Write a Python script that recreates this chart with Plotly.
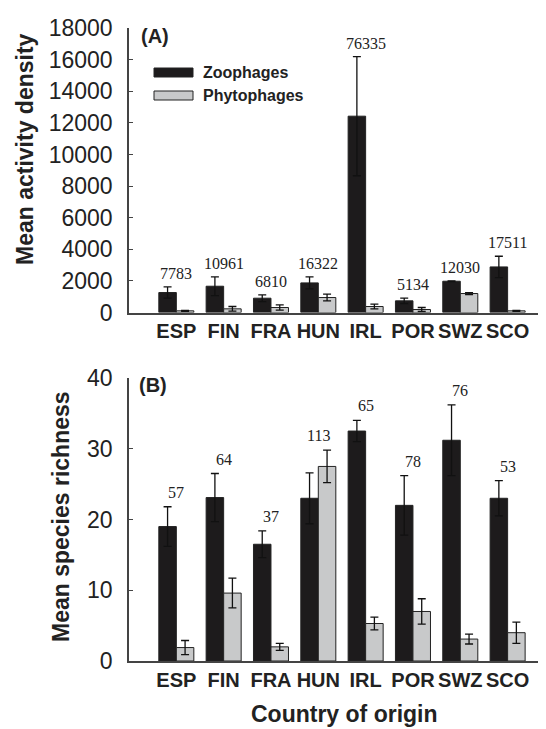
import plotly.graph_objects as go

countries = ["ESP", "FIN", "FRA", "HUN", "IRL", "POR", "SWZ", "SCO"]

zoo_density = [1263, 1663, 905, 1874, 12421, 737, 1979, 2884]
zoo_density_err = [358, 590, 211, 379, 3768, 168, 25, 674]
phyto_density = [105, 232, 316, 947, 379, 189, 1200, 105]
phyto_density_err = [30, 147, 168, 211, 147, 127, 63, 30]
density_n = ["7783", "10961", "6810", "16322", "76335", "5134", "12030", "17511"]
density_ticks = [0, 2000, 4000, 6000, 8000, 10000, 12000, 14000, 16000, 18000]

zoo_rich = [19.0, 23.1, 16.5, 23.0, 32.5, 22.0, 31.2, 23.0]
zoo_rich_err = [2.8, 3.4, 1.9, 3.6, 1.5, 4.2, 5.0, 2.5]
phyto_rich = [1.9, 9.6, 2.0, 27.5, 5.3, 7.0, 3.1, 4.0]
phyto_rich_err = [1.0, 2.1, 0.5, 2.3, 0.9, 1.8, 0.7, 1.5]
rich_n = ["57", "64", "37", "113", "65", "78", "76", "53"]
rich_ticks = [0, 10, 20, 30, 40]

ZOO = "#1d1b1c"
PHY = "#c8c9ca"
EDGE = "#222222"
SANS = "Liberation Sans"
SERIF = "Liberation Serif"

W, H = 546, 729
ML, MR, MT, MB = 121, 0, 20, 76
PW, PH = W - ML - MR, H - MT - MB


def py(p):  # pixel y -> paper
    return (H - MB - p) / PH


def px(p):  # pixel x -> paper
    return (p - ML) / PW


fig = go.Figure()

err_style = dict(type="data", color="#111111", thickness=1.3, width=4, visible=True)

fig.add_trace(go.Bar(x=countries, y=zoo_density, name="Zoophages",
                     marker=dict(color=ZOO, line=dict(color=EDGE, width=1)),
                     error_y=dict(array=zoo_density_err, **err_style),
                     xaxis="x", yaxis="y", showlegend=False))
fig.add_trace(go.Bar(x=countries, y=phyto_density, name="Phytophages",
                     marker=dict(color=PHY, line=dict(color=EDGE, width=1)),
                     error_y=dict(array=phyto_density_err, **err_style),
                     xaxis="x", yaxis="y", showlegend=False))
fig.add_trace(go.Bar(x=countries, y=zoo_rich, name="Zoophages",
                     marker=dict(color=ZOO, line=dict(color=EDGE, width=1)),
                     error_y=dict(array=zoo_rich_err, **err_style),
                     xaxis="x2", yaxis="y2", showlegend=False))
fig.add_trace(go.Bar(x=countries, y=phyto_rich, name="Phytophages",
                     marker=dict(color=PHY, line=dict(color=EDGE, width=1)),
                     error_y=dict(array=phyto_rich_err, **err_style),
                     xaxis="x2", yaxis="y2", showlegend=False))

annotations = []
for i, c in enumerate(countries):
    top = max(zoo_density[i] + zoo_density_err[i], phyto_density[i] + phyto_density_err[i])
    annotations.append(dict(x=c, y=top, xref="x", yref="y", text=density_n[i],
                            showarrow=False, yanchor="bottom", yshift=3,
                            font=dict(family=SERIF, size=16, color="#222")))
    top2 = max(zoo_rich[i] + zoo_rich_err[i], phyto_rich[i] + phyto_rich_err[i])
    annotations.append(dict(x=c, y=top2, xref="x2", yref="y2", text=rich_n[i],
                            showarrow=False, yanchor="bottom", yshift=4,
                            font=dict(family=SERIF, size=16, color="#222")))

title_font = dict(family=SANS, size=23, color="#222", weight="bold")
annotations += [
    dict(text="Mean activity density", xref="paper", yref="paper", x=0, y=py(141),
         xshift=-104, textangle=-90, showarrow=False, xanchor="center", yanchor="middle",
         font=title_font),
    dict(text="Mean species richness", xref="paper", yref="paper", x=0, y=py(509),
         xshift=-68, textangle=-90, showarrow=False, xanchor="center", yanchor="middle",
         font=title_font),
    dict(text="Country of origin", xref="paper", yref="paper", x=px(336), y=py(706),
         showarrow=False, xanchor="center", yanchor="middle", font=title_font),
    dict(text="(A)", xref="paper", yref="paper", x=px(131), y=py(28),
         showarrow=False, xanchor="left", yanchor="middle",
         font=dict(family=SANS, size=20, color="#222", weight="bold")),
    dict(text="(B)", xref="paper", yref="paper", x=px(129), y=py(377),
         showarrow=False, xanchor="left", yanchor="middle",
         font=dict(family=SANS, size=20, color="#222", weight="bold")),
    dict(text="Zoophages", xref="paper", yref="paper", x=px(193), y=py(64),
         showarrow=False, xanchor="left", yanchor="middle",
         font=dict(family=SANS, size=16, color="#222", weight="bold")),
    dict(text="Phytophages", xref="paper", yref="paper", x=px(193), y=py(87),
         showarrow=False, xanchor="left", yanchor="middle",
         font=dict(family=SANS, size=16, color="#222", weight="bold")),
]

shapes = [
    dict(type="rect", xref="paper", yref="paper", x0=px(146), x1=px(185),
         y0=py(69), y1=py(60), fillcolor=ZOO, line=dict(color=EDGE, width=1)),
    dict(type="rect", xref="paper", yref="paper", x0=px(146), x1=px(185),
         y0=py(92), y1=py(83), fillcolor=PHY, line=dict(color=EDGE, width=1)),
]

xax = dict(type="category", range=[-1, 7.98], showline=True, linecolor="#444",
           linewidth=1.5, ticks="", ticklen=0, showgrid=False, zeroline=False,
           tickfont=dict(family=SANS, size=20, color="#222", weight="bold"),
           ticklabelstandoff=0, fixedrange=True)
yax = dict(showline=True, linecolor="#444", linewidth=1.5, ticks="inside", ticklen=4,
           tickcolor="#444", tickwidth=1.2, showgrid=False, zeroline=False,
           tickfont=dict(family=SANS, size=23, color="#222"), ticklabelstandoff=10,
           tickformat="d")

fig.update_layout(
    width=W, height=H,
    margin=dict(l=ML, r=MR, t=MT, b=MB),
    paper_bgcolor="white", plot_bgcolor="white",
    barmode="group", bargap=0.26, bargroupgap=0,
    xaxis=dict(**xax, anchor="y"),
    yaxis=dict(**yax, domain=[py(304.5), 1], range=[0, 18000],
               tickvals=density_ticks, ticktext=[str(v) for v in density_ticks], anchor="x"),
    xaxis2=dict(**xax, anchor="y2"),
    yaxis2=dict(**yax, domain=[0, py(370)], range=[0, 40],
                tickvals=rich_ticks, ticktext=[str(v) for v in rich_ticks], anchor="x2"),
    annotations=annotations,
    shapes=shapes,
    showlegend=False,
)

fig.write_html("out.html")
